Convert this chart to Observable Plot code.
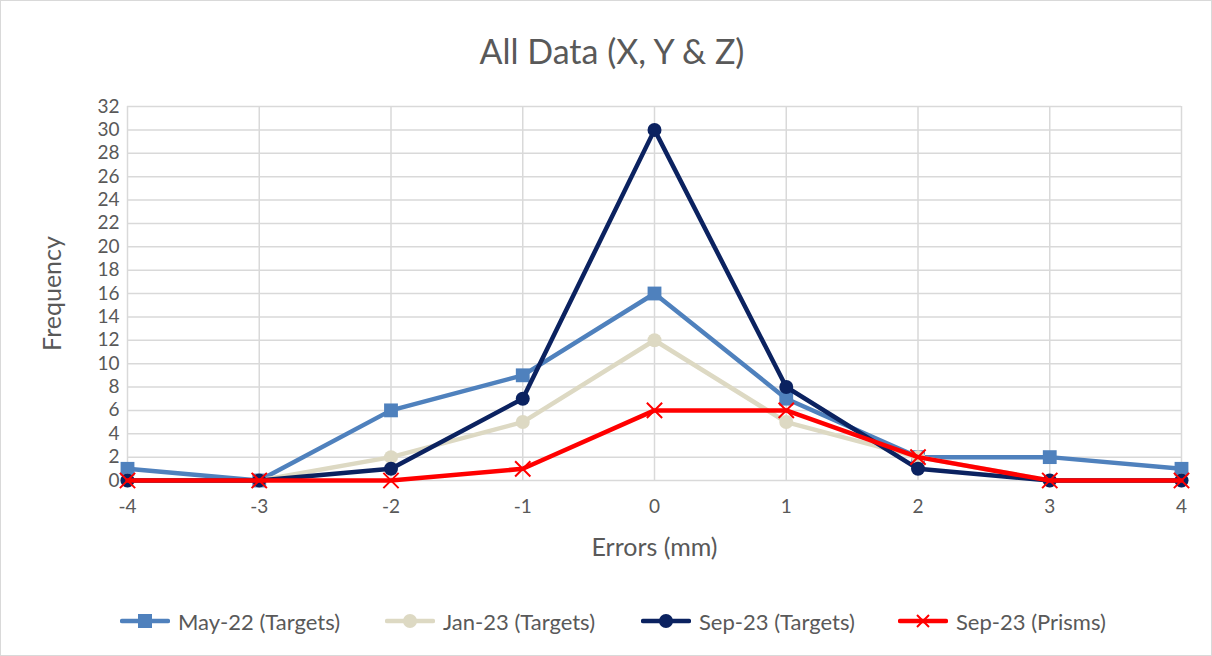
<!DOCTYPE html>
<html><head><meta charset="utf-8">
<script src="https://cdn.jsdelivr.net/npm/d3@7"></script>
<script src="https://cdn.jsdelivr.net/npm/@observablehq/plot@0.6"></script>
<style>
html,body{margin:0;padding:0;background:#fff;}
#wrap{position:relative;width:1210px;height:654px;border:1px solid #d9d9d9;font-family:Lato,"Open Sans",sans-serif;color:#595959;overflow:hidden;}
#title{height:89px;line-height:100px;text-align:center;font-size:34px;color:#595959;padding-left:12px;}
#legend{position:absolute;top:600px;left:0;width:1210px;height:40px;}
.li{position:absolute;top:0;display:flex;align-items:center;font-size:22px;color:#595959;height:40px;}
.li svg{margin-right:8px;}
</style></head>
<body><div id="wrap"><div id="title">All Data (X, Y &amp; Z)</div><div id="chart"></div><div id="legend"></div></div>
<script>
const errors = [-4,-3,-2,-1,0,1,2,3,4];
const may22Targets = [1,0,6,9,16,7,2,2,1];
const jan23Targets = [0,0,2,5,12,5,2,0,0];
const sep23Targets = [0,0,1,7,30,8,1,0,0];
const sep23Prisms  = [0,0,0,1,6,6,2,0,0];
const yTicks = [0,2,4,6,8,10,12,14,16,18,20,22,24,26,28,30,32];
const xTicks = [-4,-3,-2,-1,0,1,2,3,4];
const seriesNames = ["May-22 (Targets)","Jan-23 (Targets)","Sep-23 (Targets)","Sep-23 (Prisms)"];

const styles = [
  {color:"#4f81bd", symbol:"square", r:7.8, fill:true},
  {color:"#ddd9c3", symbol:"circle", r:7, fill:true},
  {color:"#0b2260", symbol:"circle", r:7, fill:true},
  {color:"#ff0000", symbol:"times", r:7, fill:false}
];
const allSeries = [may22Targets, jan23Targets, sep23Targets, sep23Prisms];
const fmt = d => String(d);
const marks = [
  Plot.gridY(yTicks, {stroke:"#d9d9d9", strokeOpacity:1, strokeWidth:1.5}),
  Plot.gridX(xTicks, {stroke:"#d9d9d9", strokeOpacity:1, strokeWidth:1.5}),
  Plot.axisY(yTicks, {tickSize:0, tickPadding:8, fontSize:19, fill:"#595959", label:null, tickFormat:fmt}),
  Plot.axisX(xTicks, {tickSize:0, tickPadding:19, fontSize:19, fill:"#595959", label:null, tickFormat:fmt}),
  Plot.text(["Errors (mm)"], {frameAnchor:"bottom", dy:75, fontSize:25, fill:"#595959"}),
  Plot.text(["Frequency"], {frameAnchor:"left", textAnchor:"middle", rotate:-90, dx:-75, fontSize:25, fill:"#595959"})
];
allSeries.forEach((vals, i) => {
  const data = errors.map((e, j) => ({x:e, y:vals[j]}));
  const s = styles[i];
  marks.push(Plot.line(data, {x:"x", y:"y", stroke:s.color, strokeWidth:4.5, strokeLinejoin:"round"}));
  if (s.fill) marks.push(Plot.dot(data, {x:"x", y:"y", symbol:s.symbol, r:s.r, fill:s.color, stroke:"none"}));
  else marks.push(Plot.dot(data, {x:"x", y:"y", symbol:s.symbol, r:s.r, stroke:s.color, strokeWidth:2}));
});
const chart = Plot.plot({
  width:1210, height:480,
  marginTop:16, marginBottom:90, marginLeft:126, marginRight:30,
  x:{domain:[-4,4], axis:null},
  y:{domain:[0,32], axis:null},
  style:{fontFamily:"Lato, 'Open Sans', sans-serif", background:"#fff", overflow:"visible"},
  marks
});
document.getElementById("chart").appendChild(chart);

const leg = document.getElementById("legend");
const lx = [119, 384, 640, 897];
seriesNames.forEach((name, i) => {
  const s = styles[i];
  const d = document.createElement("div");
  d.className = "li"; d.style.left = lx[i] + "px";
  let m = "";
  if (s.symbol === "square") m = `<rect x="18" y="9" width="14" height="14" fill="${s.color}"/>`;
  else if (s.symbol === "circle") m = `<circle cx="25" cy="16" r="7" fill="${s.color}"/>`;
  else m = `<path d="M19 10L31 22M31 10L19 22" stroke="${s.color}" stroke-width="2"/>`;
  d.innerHTML = `<svg width="50" height="32"><line x1="2" y1="16" x2="48" y2="16" stroke="${s.color}" stroke-width="4.5" stroke-linecap="round"/>${m}</svg><span>${name}</span>`;
  leg.appendChild(d);
});
</script></body></html>
